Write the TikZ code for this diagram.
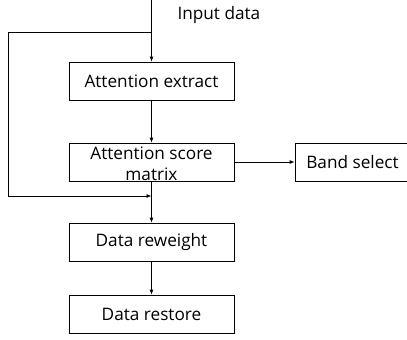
\documentclass[tikz,border=0pt]{standalone}
\usepackage{fontspec}
\setmainfont{Open Sans}
\usetikzlibrary{arrows.meta}
\begin{document}
\begin{tikzpicture}[x=1pt,y=-1pt,
  every node/.style={font=\fontsize{17.2}{19}\selectfont},
  boxnode/.style={draw,line width=0.8pt,minimum width=165pt,minimum height=38pt,inner sep=0pt},
  arr/.style={line width=0.8pt,-{Latex[length=5pt,width=4pt]}},
  ln/.style={line width=0.8pt}]
\useasboundingbox (0,0) rectangle (407,340);
\node[boxnode] (ae) at (151.5,81) {Attention extract};
\node[boxnode,align=center] (as) at (151.5,162) {};
\node[anchor=base,align=center,font=\fontsize{17.2}{21}\selectfont] (ast) at (151.5,180) {Attention score\\matrix};
\node[boxnode,minimum width=115pt] (bs) at (352.5,162) {Band select};
\node[boxnode] (dr) at (151.5,242) {Data reweight};
\node[boxnode] (ds) at (151.5,314) {Data restore};
\node[anchor=west] (in) at (174,15.5) {Input data};
\coordinate (top) at (151.5,-2);
\coordinate (split) at (151.5,32);
\coordinate (lt) at (8,32);
\coordinate (lb) at (8,196);
\coordinate (join) at (151.5,196);
\draw[arr] (top) -- (ae.north);
\draw[ln] (split) -- (lt) -- (lb);
\draw[arr] (lb) -- (join);
\draw[arr] (ae.south) -- (as.north);
\draw[arr] (as.east) -- (bs.west);
\draw[arr] (as.south) -- (dr.north);
\draw[arr] (dr.south) -- (ds.north);
\end{tikzpicture}
\end{document}
